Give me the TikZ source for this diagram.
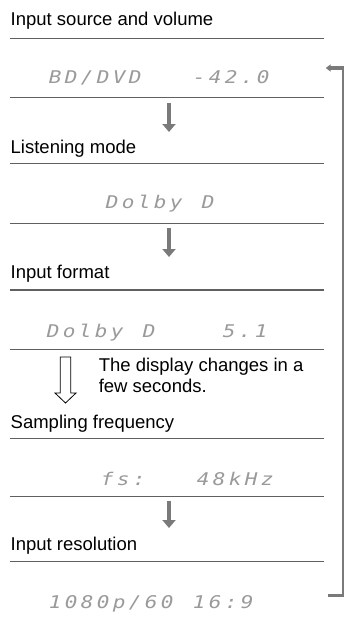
\documentclass[tikz,border=0pt]{standalone}
\usepackage{fontspec}
\usepackage{graphicx}
\setmainfont{Liberation Sans}
\newfontfamily\dmfont{DejaVu Sans Mono}
\usetikzlibrary{arrows.meta}
\definecolor{rulegray}{HTML}{606060}
\definecolor{arrgray}{HTML}{7A7A7A}
\definecolor{dmgray}{HTML}{9A9A9A}
\def\dm#1{\dmloop#1\relax}
\def\dmloop#1{\ifx#1\relax\else\makebox[16pt][c]{\ifx#1*\else\scalebox{1.2}[1]{#1}\fi}\expandafter\dmloop\fi}
\begin{document}
\begin{tikzpicture}[x=1pt,y=-1pt,
  lbl/.style={anchor=base west,inner sep=0pt,font=\fontsize{18.5}{22}\selectfont},
  disp/.style={anchor=base west,inner sep=0pt,text=dmgray,font=\dmfont\itshape\fontsize{17.5}{21}\selectfont},
  hrule/.style={draw=rulegray,line width=1.1pt},
  downarr/.style={draw=arrgray,line width=3.5pt,-{Triangle[width=13pt,length=8pt]}},
  loopline/.style={draw=arrgray,line width=2pt},
  loopbar/.style={draw=arrgray,line width=3pt},
  hollow/.style={draw=black,line width=0.8pt,fill=white}]
\useasboundingbox (0,0) rectangle (344,618);
% rules
\foreach \y in {38.3,97.3,163.3,223.3,290,349.3,438.3,496.7,561.7}
  \draw[hrule] (10,\y) -- (324,\y);
% labels and displays
\node[lbl] (l1) at (10.5,26) {Input source and volume};
\node[disp] (d1) at (47,83) {\dm{BD/DVD***-42.0}};
\node[lbl] (l2) at (10.5,153) {Listening mode};
\node[disp] (d2) at (104,208) {\dm{Dolby*D}};
\node[lbl] (l3) at (10.5,278) {Input format};
\node[disp] (d3) at (45,337) {\dm{Dolby*D****5.1}};
\node[lbl] (n1) at (98.6,371.5) {The display changes in a};
\node[lbl] (n2) at (98.6,392.5) {few seconds.};
\node[lbl] (l4) at (10.5,428) {Sampling frequency};
\node[disp] (d4) at (99,485) {\dm{fs:***48kHz}};
\node[lbl] (l5) at (10.5,550) {Input resolution};
\node[disp] (d5) at (47,608) {\dm{1080p/60*16:9}};
% gray down arrows
\coordinate (a1s) at (169,103); \coordinate (a1e) at (169,132);
\coordinate (a2s) at (169,228); \coordinate (a2e) at (169,257);
\coordinate (a3s) at (169,501); \coordinate (a3e) at (169,528);
\draw[downarr] (a1s) -- (a1e);
\draw[downarr] (a2s) -- (a2e);
\draw[downarr] (a3s) -- (a3e);
% hollow arrow
\draw[hollow] (60.3,357) -- (70.7,357) -- (70.7,393) -- (76,393) -- (65.5,403) -- (55,393) -- (60.3,393) -- cycle;
% loop-back bracket
\coordinate (bt) at (342.5,68);
\coordinate (bb) at (342.5,595.5);
\coordinate (btip) at (325.7,68);
\coordinate (bend) at (328,595.5);
\draw[loopline] ([yshift=1.5pt]bb) -- ([yshift=-1.5pt]bt);
\draw[loopbar] ([xshift=1pt]bb) -- (bend);
\draw[loopbar,-{Triangle[width=7pt,length=5pt]}] ([xshift=1pt]bt) -- (btip);
\end{tikzpicture}
\end{document}
